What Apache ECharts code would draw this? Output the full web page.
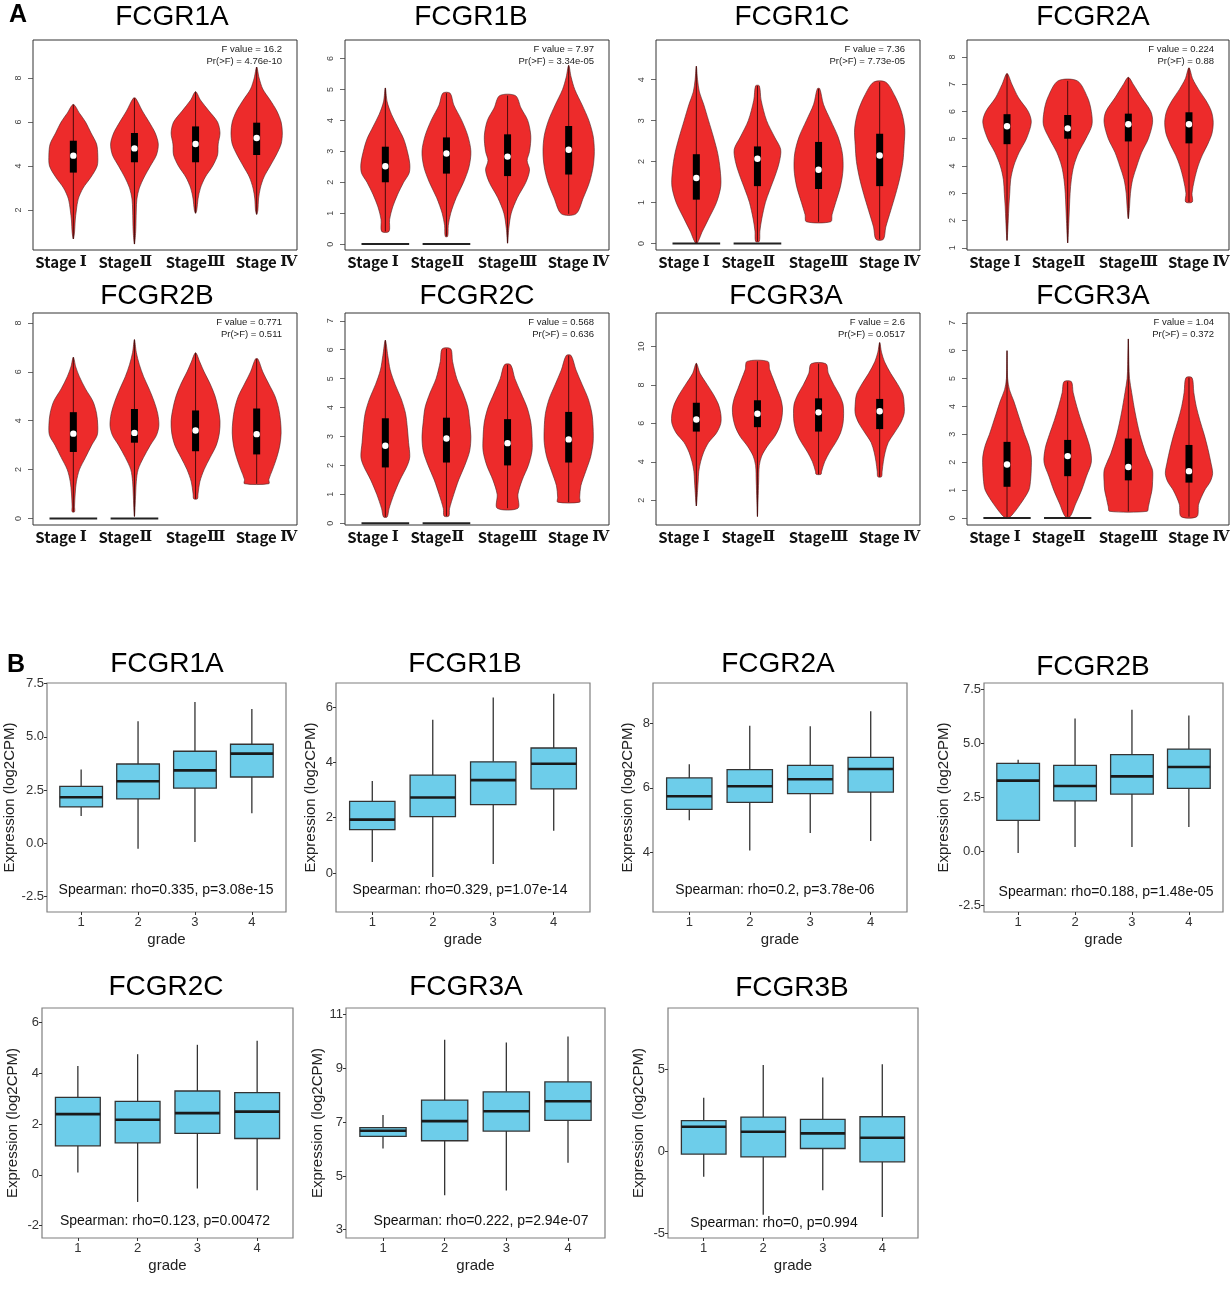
<!DOCTYPE html>
<html>
<head>
<meta charset="utf-8">
<script src="https://cdn.jsdelivr.net/npm/echarts@6/dist/echarts.min.js"></script>
<style>
  html, body { margin: 0; padding: 0; background: #fff; }
  #chart { width: 1232px; height: 1304px; }
</style>
</head>
<body>
<div id="chart"></div>
<script>
// ---------- Panel A : violin plots by stage ----------
const stageWords = ['Stage ', 'Stage', 'Stage', 'Stage '];
const stageNumerals = ['Ⅰ', 'Ⅱ', 'Ⅲ', 'Ⅳ'];
const violinTitles = ['FCGR1A', 'FCGR1B', 'FCGR1C', 'FCGR2A', 'FCGR2B', 'FCGR2C', 'FCGR3A', 'FCGR3A'];
const fValues = ['16.2', '7.97', '7.36', '0.224', '0.771', '0.568', '2.6', '1.04'];
const prValues = ['4.76e-10', '3.34e-05', '7.73e-05', '0.88', '0.511', '0.636', '0.0517', '0.372'];
const violinYTicks = [[2, 4, 6, 8], [0, 1, 2, 3, 4, 5, 6], [0, 1, 2, 3, 4], [1, 2, 3, 4, 5, 6, 7, 8],
                      [0, 2, 4, 6, 8], [0, 1, 2, 3, 4, 5, 6, 7], [2, 4, 6, 8, 10], [0, 1, 2, 3, 4, 5, 6, 7]];
const violinYRange = [[0.18, 9.73], [-0.19, 6.6], [-0.16, 4.97], [0.92, 8.62],
                      [-0.27, 8.41], [-0.06, 7.27], [0.71, 11.74], [-0.25, 7.35]];
// stages that also carry a row of zero values
const zeroRows = [[], [1, 2], [1, 2], [], [1, 2], [1, 2], [], [1, 2]];

// outlines: [value, half width] from top to bottom, one list per stage
const violinFCGR1A = [
  [[6.8, 0], [6.4, 0.10], [6.0, 0.20], [5.5, 0.29], [5.0, 0.38], [4.5, 0.40], [4.0, 0.39], [3.5, 0.29], [3.0, 0.16], [2.5, 0.08], [2.0, 0.05], [1.5, 0.03], [1.0, 0.02], [0.68, 0]],
  [[7.08, 0.02], [6.5, 0.13], [6.0, 0.24], [5.5, 0.34], [5.0, 0.39], [4.5, 0.36], [4.0, 0.26], [3.5, 0.16], [3.0, 0.08], [2.5, 0.04], [2.0, 0.03], [1.0, 0.02], [0.45, 0]],
  [[7.38, 0], [7.0, 0.08], [6.5, 0.22], [6.0, 0.36], [5.5, 0.40], [5.0, 0.37], [4.5, 0.36], [4.0, 0.28], [3.5, 0.16], [3.0, 0.08], [2.5, 0.04], [2.0, 0.02], [1.85, 0]],
  [[8.5, 0], [8.0, 0.04], [7.5, 0.10], [7.0, 0.22], [6.5, 0.33], [6.0, 0.40], [5.5, 0.42], [5.0, 0.40], [4.5, 0.32], [4.0, 0.22], [3.5, 0.12], [3.0, 0.06], [2.5, 0.03], [2.0, 0.02], [1.8, 0]]
];
const violinFCGR1B = [
  [[5.05, 0], [4.6, 0.03], [4.2, 0.10], [3.8, 0.20], [3.4, 0.30], [3.0, 0.36], [2.6, 0.40], [2.3, 0.39], [2.0, 0.30], [1.6, 0.20], [1.2, 0.12], [0.8, 0.07], [0.41, 0.06]],
  [[4.88, 0.06], [4.5, 0.12], [4.0, 0.25], [3.5, 0.35], [3.0, 0.40], [2.5, 0.37], [2.0, 0.28], [1.5, 0.16], [1.0, 0.07], [0.6, 0.03], [0.25, 0.02]],
  [[4.8, 0.13], [4.4, 0.22], [4.0, 0.33], [3.5, 0.38], [3.0, 0.36], [2.7, 0.32], [2.4, 0.36], [2.0, 0.30], [1.5, 0.16], [1.0, 0.06], [0.5, 0.02], [0.03, 0]],
  [[5.78, 0], [5.4, 0.04], [5.0, 0.10], [4.5, 0.22], [4.0, 0.33], [3.5, 0.40], [3.0, 0.42], [2.5, 0.40], [2.0, 0.34], [1.5, 0.24], [0.98, 0.12]]
];
const violinFCGR1C = [
  [[4.33, 0], [4.0, 0.02], [3.7, 0.05], [3.4, 0.12], [3.0, 0.20], [2.6, 0.28], [2.2, 0.35], [1.8, 0.39], [1.4, 0.40], [1.0, 0.33], [0.6, 0.20], [0.3, 0.10], [0, 0]],
  [[3.85, 0.03], [3.5, 0.06], [3.0, 0.15], [2.6, 0.28], [2.3, 0.38], [2.0, 0.36], [1.7, 0.30], [1.3, 0.20], [1.0, 0.13], [0.6, 0.07], [0.3, 0.04], [0.05, 0.03]],
  [[3.78, 0.02], [3.4, 0.08], [3.0, 0.20], [2.6, 0.32], [2.2, 0.39], [1.8, 0.40], [1.4, 0.36], [1.0, 0.28], [0.7, 0.22], [0.53, 0.2]],
  [[3.94, 0.1], [3.6, 0.25], [3.2, 0.36], [2.8, 0.41], [2.4, 0.40], [2.0, 0.38], [1.6, 0.33], [1.2, 0.26], [0.8, 0.18], [0.4, 0.10], [0.1, 0.06]]
];
const violinFCGR2A = [
  [[7.39, 0], [7.0, 0.08], [6.5, 0.19], [6.0, 0.35], [5.6, 0.40], [5.0, 0.32], [4.5, 0.20], [4.0, 0.11], [3.5, 0.06], [3.0, 0.045], [2.5, 0.03], [2.0, 0.02], [1.27, 0]],
  [[7.12, 0.16], [6.5, 0.33], [6.0, 0.39], [5.5, 0.40], [5.0, 0.30], [4.5, 0.18], [4.0, 0.10], [3.5, 0.06], [3.0, 0.04], [2.0, 0.02], [1.18, 0]],
  [[7.25, 0], [7.0, 0.08], [6.5, 0.22], [6.0, 0.37], [5.6, 0.40], [5.0, 0.33], [4.5, 0.22], [4.0, 0.14], [3.5, 0.07], [3.0, 0.035], [2.5, 0.02], [2.07, 0]],
  [[7.6, 0], [7.2, 0.06], [6.8, 0.16], [6.4, 0.28], [6.0, 0.37], [5.6, 0.40], [5.2, 0.38], [4.8, 0.31], [4.4, 0.22], [4.0, 0.15], [3.5, 0.09], [3.0, 0.05], [2.68, 0.055]]
];
const violinFCGR2B = [
  [[6.6, 0], [6.2, 0.04], [5.8, 0.10], [5.3, 0.20], [4.8, 0.32], [4.3, 0.38], [3.8, 0.40], [3.4, 0.39], [3.0, 0.30], [2.5, 0.20], [2.0, 0.10], [1.5, 0.05], [1.0, 0.03], [0.5, 0.02], [0.27, 0.02]],
  [[7.32, 0], [6.8, 0.03], [6.3, 0.08], [5.8, 0.15], [5.3, 0.24], [4.8, 0.32], [4.3, 0.38], [3.8, 0.40], [3.4, 0.36], [3.0, 0.26], [2.5, 0.15], [2.0, 0.06], [1.5, 0.03], [1.0, 0.02], [0.08, 0]],
  [[6.78, 0], [6.4, 0.07], [6.0, 0.14], [5.5, 0.24], [5.0, 0.32], [4.5, 0.37], [4.0, 0.40], [3.5, 0.39], [3.0, 0.34], [2.5, 0.24], [2.0, 0.14], [1.5, 0.07], [1.0, 0.04], [0.8, 0.03]],
  [[6.53, 0.02], [6.0, 0.10], [5.5, 0.20], [5.0, 0.30], [4.5, 0.36], [4.0, 0.39], [3.5, 0.40], [3.0, 0.38], [2.5, 0.33], [2.0, 0.26], [1.6, 0.2], [1.42, 0.2]]
];
const violinFCGR2C = [
  [[6.33, 0], [5.8, 0.04], [5.3, 0.08], [4.8, 0.16], [4.3, 0.26], [3.8, 0.33], [3.3, 0.36], [2.8, 0.38], [2.3, 0.40], [2.0, 0.36], [1.5, 0.24], [1.0, 0.14], [0.5, 0.06], [0.22, 0.03]],
  [[6.03, 0.07], [5.6, 0.10], [5.0, 0.17], [4.5, 0.27], [4.0, 0.35], [3.5, 0.38], [3.0, 0.40], [2.5, 0.38], [2.0, 0.30], [1.5, 0.20], [1.0, 0.12], [0.5, 0.05], [0.25, 0.04]],
  [[5.48, 0.05], [5.0, 0.12], [4.5, 0.22], [4.0, 0.32], [3.5, 0.38], [3.0, 0.40], [2.5, 0.40], [2.0, 0.34], [1.5, 0.24], [1.0, 0.17], [0.52, 0.17]],
  [[5.8, 0.04], [5.3, 0.12], [4.8, 0.22], [4.3, 0.32], [3.8, 0.38], [3.3, 0.40], [2.8, 0.40], [2.3, 0.36], [1.8, 0.28], [1.3, 0.2], [0.9, 0.18], [0.73, 0.18]]
];
const violinFCGR3A = [
  [[9.12, 0], [8.6, 0.06], [8.0, 0.18], [7.5, 0.28], [7.0, 0.36], [6.5, 0.40], [6.0, 0.40], [5.5, 0.33], [5.0, 0.20], [4.5, 0.12], [4.0, 0.07], [3.5, 0.04], [3.0, 0.03], [2.5, 0.02], [1.7, 0]],
  [[9.22, 0.17], [8.8, 0.20], [8.3, 0.26], [7.8, 0.32], [7.3, 0.38], [6.8, 0.41], [6.3, 0.40], [5.8, 0.36], [5.3, 0.28], [4.8, 0.16], [4.3, 0.07], [3.8, 0.03], [3.0, 0.02], [2.0, 0.01], [1.15, 0]],
  [[9.1, 0.12], [8.6, 0.16], [8.0, 0.25], [7.5, 0.34], [7.0, 0.40], [6.5, 0.41], [6.0, 0.40], [5.5, 0.36], [5.0, 0.28], [4.5, 0.18], [4.0, 0.10], [3.5, 0.05], [3.35, 0.04]],
  [[10.2, 0], [9.7, 0.03], [9.2, 0.08], [8.6, 0.18], [8.0, 0.30], [7.5, 0.38], [7.0, 0.40], [6.5, 0.40], [6.0, 0.34], [5.5, 0.24], [5.0, 0.14], [4.5, 0.09], [4.0, 0.06], [3.5, 0.04], [3.22, 0.03]]
];
const violinFCGR3Ab = [
  [[6.0, 0], [5.0, 0.01], [4.6, 0.04], [4.2, 0.11], [3.8, 0.17], [3.4, 0.23], [3.0, 0.29], [2.6, 0.36], [2.2, 0.40], [1.8, 0.40], [1.4, 0.39], [1.0, 0.36], [0.5, 0.22], [0.1, 0.08], [0.0, 0.02]],
  [[4.89, 0.06], [4.5, 0.09], [4.0, 0.15], [3.5, 0.22], [3.0, 0.30], [2.5, 0.37], [2.0, 0.39], [1.5, 0.31], [1.0, 0.23], [0.5, 0.13], [0.05, 0.04]],
  [[6.42, 0], [5.5, 0.01], [5.0, 0.02], [4.5, 0.055], [3.8, 0.11], [3.0, 0.19], [2.3, 0.29], [2.0, 0.35], [1.7, 0.40], [1.3, 0.40], [1.0, 0.39], [0.7, 0.36], [0.4, 0.33], [0.24, 0.31]],
  [[5.03, 0.05], [4.5, 0.08], [4.0, 0.12], [3.5, 0.18], [3.0, 0.25], [2.5, 0.31], [2.0, 0.36], [1.6, 0.39], [1.3, 0.35], [1.0, 0.26], [0.5, 0.16], [0.05, 0.13]]
];
// [q1, median, q3] per stage
const statsFCGR1A = [[3.7, 4.47, 5.15], [4.17, 4.8, 5.5], [4.17, 5.0, 5.8], [4.5, 5.27, 5.97]];
const statsFCGR1B = [[2.0, 2.52, 3.15], [2.28, 2.93, 3.45], [2.2, 2.83, 3.55], [2.25, 3.05, 3.82]];
const statsFCGR1C = [[1.07, 1.6, 2.18], [1.4, 2.07, 2.37], [1.33, 1.8, 2.48], [1.4, 2.15, 2.68]];
const statsFCGR2A = [[4.8, 5.46, 5.9], [5.0, 5.38, 5.87], [4.9, 5.53, 5.92], [4.83, 5.53, 5.97]];
const statsFCGR2B = [[2.72, 3.47, 4.35], [3.1, 3.5, 4.48], [2.75, 3.6, 4.42], [2.62, 3.45, 4.5]];
const statsFCGR2C = [[1.93, 2.68, 3.63], [2.1, 2.93, 3.65], [2.0, 2.77, 3.6], [2.1, 2.9, 3.85]];
const statsFCGR3A = [[5.57, 6.2, 7.07], [5.8, 6.5, 7.2], [5.57, 6.57, 7.3], [5.7, 6.63, 7.27]];
const statsFCGR3Ab = [[1.12, 1.92, 2.73], [1.5, 2.22, 2.8], [1.35, 1.83, 2.85], [1.27, 1.68, 2.62]];

const violinOutlines = [violinFCGR1A, violinFCGR1B, violinFCGR1C, violinFCGR2A,
                        violinFCGR2B, violinFCGR2C, violinFCGR3A, violinFCGR3Ab];
const violinStats = [statsFCGR1A, statsFCGR1B, statsFCGR1C, statsFCGR2A,
                     statsFCGR2B, statsFCGR2C, statsFCGR3A, statsFCGR3Ab];

// ---------- Panel B : box plots by grade ----------
const grades = [1, 2, 3, 4];
const gradeTitles = ['FCGR1A', 'FCGR1B', 'FCGR2A', 'FCGR2B', 'FCGR2C', 'FCGR3A', 'FCGR3B'];
const spearmanTexts = [
  'Spearman: rho=0.335, p=3.08e-15', 'Spearman: rho=0.329, p=1.07e-14',
  'Spearman: rho=0.2, p=3.78e-06', 'Spearman: rho=0.188, p=1.48e-05',
  'Spearman: rho=0.123, p=0.00472', 'Spearman: rho=0.222, p=2.94e-07',
  'Spearman: rho=0, p=0.994'
];
// [lower whisker, q1, median, q3, upper whisker] per grade
const gradeFCGR1A = [[1.28, 1.7, 2.16, 2.67, 3.46], [-0.27, 2.08, 2.91, 3.72, 5.73], [0.05, 2.59, 3.42, 4.32, 6.64], [1.40, 3.11, 4.21, 4.65, 6.31]];
const gradeFCGR1B = [[0.40, 1.57, 1.93, 2.59, 3.33], [-0.14, 2.04, 2.73, 3.54, 5.54], [0.33, 2.47, 3.36, 4.02, 6.35], [1.53, 3.04, 3.95, 4.52, 6.48]];
const gradeFCGR2A = [[4.99, 5.33, 5.74, 6.31, 6.74], [4.05, 5.55, 6.05, 6.57, 7.94], [4.59, 5.82, 6.27, 6.70, 7.92], [4.34, 5.87, 6.59, 6.95, 8.39]];
const gradeFCGR2B = [[-0.06, 1.45, 3.29, 4.09, 4.26], [0.22, 2.35, 3.04, 4.0, 6.17], [0.22, 2.67, 3.49, 4.49, 6.57], [1.14, 2.93, 3.92, 4.75, 6.31]];
const gradeFCGR2C = [[0.09, 1.14, 2.39, 3.05, 4.29], [-1.07, 1.26, 2.17, 2.89, 4.75], [-0.54, 1.63, 2.43, 3.30, 5.12], [-0.61, 1.43, 2.49, 3.24, 5.28]];
const gradeFCGR3A = [[6.02, 6.47, 6.68, 6.80, 7.27], [4.28, 6.31, 7.04, 7.82, 10.07], [4.46, 6.67, 7.41, 8.13, 9.97], [5.49, 7.07, 7.78, 8.50, 10.19]];
const gradeFCGR3B = [[-1.54, -0.16, 1.50, 1.87, 3.27], [-3.84, -0.33, 1.20, 2.09, 5.26], [-2.36, 0.18, 1.10, 1.95, 4.49], [-3.98, -0.63, 0.83, 2.11, 5.30]];
const gradeYTicks = [[-2.5, 0, 2.5, 5, 7.5], [0, 2, 4, 6], [4, 6, 8], [-2.5, 0, 2.5, 5, 7.5], [-2, 0, 2, 4, 6], [3, 5, 7, 9, 11], [-5, 0, 5]];
const gradeYRange = [[-3.24, 7.53], [-1.41, 6.87], [2.13, 9.27], [-2.79, 7.81], [-2.49, 6.57], [2.69, 11.25], [-5.26, 8.72]];

const gradeBoxes = [gradeFCGR1A, gradeFCGR1B, gradeFCGR2A, gradeFCGR2B, gradeFCGR2C, gradeFCGR3A, gradeFCGR3B];

// ---------- layout (pixels) ----------
const violinGrids = [[33, 40, 264, 210], [345, 40, 264, 210], [656, 40, 264, 210], [967, 40, 262, 210],
                     [33, 313, 264, 212], [345, 313, 264, 212], [656, 313, 264, 212], [967, 313, 262, 212]];
const violinTitleX = [172, 471, 792, 1093, 157, 477, 786, 1093];
const stageLabelPos = [0.8, 1.85, 3.0, 4.16];
const gradeGrids = [[47, 683, 239, 229], [336, 683, 254, 229], [653, 683, 254, 229], [984, 683, 239, 229],
                    [42, 1008, 251, 230], [346, 1008, 259, 230], [668, 1008, 250, 230]];
const gradeTitlePos = [[167, 664], [465, 664], [778, 664], [1093, 667], [166, 987], [466, 987], [792, 988]];
const spearmanPos = [[166, 890], [460, 890], [775, 890], [1106, 892], [165, 1221], [481, 1221], [774, 1223]];
const gradeNameGap = [29, 18, 18, 33, 22, 19, 22];

const VIOLIN_RED = '#ED2B2B';
const BOX_BLUE = '#6DCDEA';
const SANS = '"Liberation Sans", Arial, sans-serif';

const chart = echarts.init(document.getElementById('chart'));

const grids = [];
const xAxes = [];
const yAxes = [];
const series = [];
const graphics = [];

function violinRenderer(c) {
  return function (params, api) {
    const s = api.value(0);
    const outline = violinOutlines[c][s - 1];
    const st = violinStats[c][s - 1];
    const right = outline.map(p => api.coord([s + p[1], p[0]]));
    const left = [];
    for (let k = outline.length - 1; k >= 0; k--) {
      const p = outline[k];
      if (p[1] === 0) continue;
      left.push(api.coord([s - p[1], p[0]]));
    }
    const top = api.coord([s, outline[0][0]]);
    const bottom = api.coord([s, outline[outline.length - 1][0]]);
    const q1 = api.coord([s, st[0]]);
    const md = api.coord([s, st[1]]);
    const q3 = api.coord([s, st[2]]);
    const children = [];
    children.push({
      type: 'polygon',
      shape: { points: right.concat(left), smooth: 0.3 },
      style: { fill: VIOLIN_RED, stroke: '#4a2222', lineWidth: 0.6 }
    });
    if (zeroRows[c].indexOf(s) >= 0) {
      const a = api.coord([s - 0.39, 0]);
      const b = api.coord([s + 0.39, 0]);
      children.push({
        type: 'line',
        shape: { x1: a[0], y1: a[1], x2: b[0], y2: b[1] },
        style: { stroke: '#222', lineWidth: 2 }
      });
    }
    children.push({
      type: 'line',
      shape: { x1: top[0], y1: top[1], x2: bottom[0], y2: bottom[1] },
      style: { stroke: '#4a0c0c', lineWidth: 1 }
    });
    children.push({
      type: 'rect',
      shape: { x: md[0] - 3.5, y: q3[1], width: 7, height: q1[1] - q3[1] },
      style: { fill: '#000' }
    });
    children.push({
      type: 'circle',
      shape: { cx: md[0], cy: md[1], r: 3.2 },
      style: { fill: '#fff' }
    });
    return { type: 'group', children: children };
  };
}

function renderGradeBox(params, api) {
  const g = api.value(0);
  const lo = api.coord([g, api.value(1)]);
  const q1 = api.coord([g, api.value(2)]);
  const md = api.coord([g, api.value(3)]);
  const q3 = api.coord([g, api.value(4)]);
  const hi = api.coord([g, api.value(5)]);
  const half = api.coord([g + 0.375, 0])[0] - lo[0];
  const whisker = { stroke: '#333', lineWidth: 1.3 };
  return {
    type: 'group',
    children: [
      { type: 'line', shape: { x1: lo[0], y1: hi[1], x2: lo[0], y2: q3[1] }, style: whisker },
      { type: 'line', shape: { x1: lo[0], y1: q1[1], x2: lo[0], y2: lo[1] }, style: whisker },
      { type: 'rect', shape: { x: lo[0] - half, y: q3[1], width: 2 * half, height: q1[1] - q3[1] },
        style: { fill: BOX_BLUE, stroke: '#333', lineWidth: 1.3 } },
      { type: 'line', shape: { x1: lo[0] - half, y1: md[1], x2: lo[0] + half, y2: md[1] },
        style: { stroke: '#1a1a1a', lineWidth: 2.6 } }
    ]
  };
}

// panel letters
graphics.push({ type: 'text', x: 9, y: 3, style: { text: 'A', font: 'bold 25px ' + SANS, fill: '#000' } });
graphics.push({ type: 'text', x: 7, y: 653, style: { text: 'B', font: 'bold 25px ' + SANS, fill: '#000' } });

// ----- violins -----
violinOutlines.forEach(function (outlines, c) {
  const g = violinGrids[c];
  const idx = grids.length;
  grids.push({
    left: g[0], top: g[1], width: g[2], height: g[3],
    show: true, borderColor: '#333', borderWidth: 1, backgroundColor: 'transparent',
    outerBoundsMode: 'none'
  });
  xAxes.push({
    type: 'value', gridIndex: idx, min: 0.34, max: 4.66,
    axisLine: { show: false, onZero: false }, splitLine: { show: false }, axisTick: { show: false },
    axisLabel: {
      customValues: stageLabelPos, margin: 5,
      formatter: function (v) {
        let best = 0;
        stageLabelPos.forEach(function (p, k) {
          if (Math.abs(p - v) < Math.abs(stageLabelPos[best] - v)) best = k;
        });
        return '{w|' + stageWords[best] + '}{n|' + stageNumerals[best] + '}';
      },
      rich: {
        w: { fontFamily: '"Noto Sans CJK SC", sans-serif', fontWeight: 'bold', fontSize: 15, color: '#111' },
        n: { fontFamily: '"DejaVu Serif", "Liberation Serif", serif', fontWeight: 'bold', fontSize: 15, color: '#111' }
      }
    }
  });
  yAxes.push({
    type: 'value', gridIndex: idx, min: violinYRange[c][0], max: violinYRange[c][1],
    axisLine: { show: false, onZero: false }, splitLine: { show: false },
    axisTick: { show: true, customValues: violinYTicks[c], length: 5, lineStyle: { color: '#444', width: 0.8 } },
    axisLabel: { customValues: violinYTicks[c], rotate: 90, margin: 10, fontSize: 9, color: '#444', fontFamily: SANS }
  });
  series.push({
    type: 'custom', xAxisIndex: idx, yAxisIndex: idx,
    renderItem: violinRenderer(c),
    data: violinStats[c].map(function (st, i) { return [i + 1, st[1]]; }),
    silent: true
  });
  const row = c < 4 ? 0 : 1;
  graphics.push({
    type: 'text', x: violinTitleX[c], y: row === 0 ? 17 : 296,
    style: { text: violinTitles[c], font: '28px ' + SANS, fill: '#000', textAlign: 'center', textVerticalAlign: 'middle' }
  });
  const right = g[0] + g[2] - 15;
  graphics.push({
    type: 'text', x: right, y: g[1] + 9,
    style: { text: 'F value = ' + fValues[c], font: '9.5px ' + SANS, fill: '#222', textAlign: 'right', textVerticalAlign: 'middle' }
  });
  graphics.push({
    type: 'text', x: right, y: g[1] + 21,
    style: { text: 'Pr(>F) = ' + prValues[c], font: '9.5px ' + SANS, fill: '#222', textAlign: 'right', textVerticalAlign: 'middle' }
  });
});

// ----- grade boxplots -----
gradeBoxes.forEach(function (boxes, c) {
  const g = gradeGrids[c];
  const idx = grids.length;
  const decimals = gradeYTicks[c].some(function (t) { return t % 1 !== 0; });
  grids.push({
    left: g[0], top: g[1], width: g[2], height: g[3],
    show: true, borderColor: '#7f7f7f', borderWidth: 1.2, backgroundColor: 'transparent',
    outerBoundsMode: 'none'
  });
  xAxes.push({
    type: 'value', gridIndex: idx, min: 0.4, max: 4.6,
    name: 'grade', nameLocation: 'middle', nameGap: 20,
    nameTextStyle: { fontSize: 15, color: '#222', fontFamily: SANS },
    axisLine: { show: false, onZero: false }, splitLine: { show: false },
    axisTick: { show: true, customValues: grades, length: 3, lineStyle: { color: '#333' } },
    axisLabel: { customValues: grades, margin: 4, fontSize: 13, color: '#333', fontFamily: SANS }
  });
  yAxes.push({
    type: 'value', gridIndex: idx, min: gradeYRange[c][0], max: gradeYRange[c][1],
    name: 'Expression (log2CPM)', nameLocation: 'middle', nameRotate: 90, nameGap: gradeNameGap[c],
    nameTextStyle: { fontSize: 15, color: '#222', fontFamily: SANS },
    axisLine: { show: false, onZero: false }, splitLine: { show: false },
    axisTick: { show: true, customValues: gradeYTicks[c], length: 3, lineStyle: { color: '#333' } },
    axisLabel: {
      customValues: gradeYTicks[c], margin: 3, fontSize: 13, color: '#333', fontFamily: SANS,
      formatter: function (v) { return decimals ? v.toFixed(1) : String(v); }
    }
  });
  series.push({
    type: 'custom', xAxisIndex: idx, yAxisIndex: idx,
    renderItem: renderGradeBox,
    encode: { x: 0, y: [1, 2, 3, 4, 5] },
    data: boxes.map(function (b, i) { return [grades[i]].concat(b); }),
    silent: true
  });
  graphics.push({
    type: 'text', x: gradeTitlePos[c][0], y: gradeTitlePos[c][1],
    style: { text: gradeTitles[c], font: '28px ' + SANS, fill: '#000', textAlign: 'center', textVerticalAlign: 'middle' }
  });
  graphics.push({
    type: 'text', x: spearmanPos[c][0], y: spearmanPos[c][1],
    style: { text: spearmanTexts[c], font: '14px ' + SANS, fill: '#111', textAlign: 'center', textVerticalAlign: 'middle' }
  });
});

chart.setOption({
  animation: false,
  backgroundColor: '#fff',
  grid: grids,
  xAxis: xAxes,
  yAxis: yAxes,
  series: series,
  graphic: graphics
});
</script>
</body>
</html>
